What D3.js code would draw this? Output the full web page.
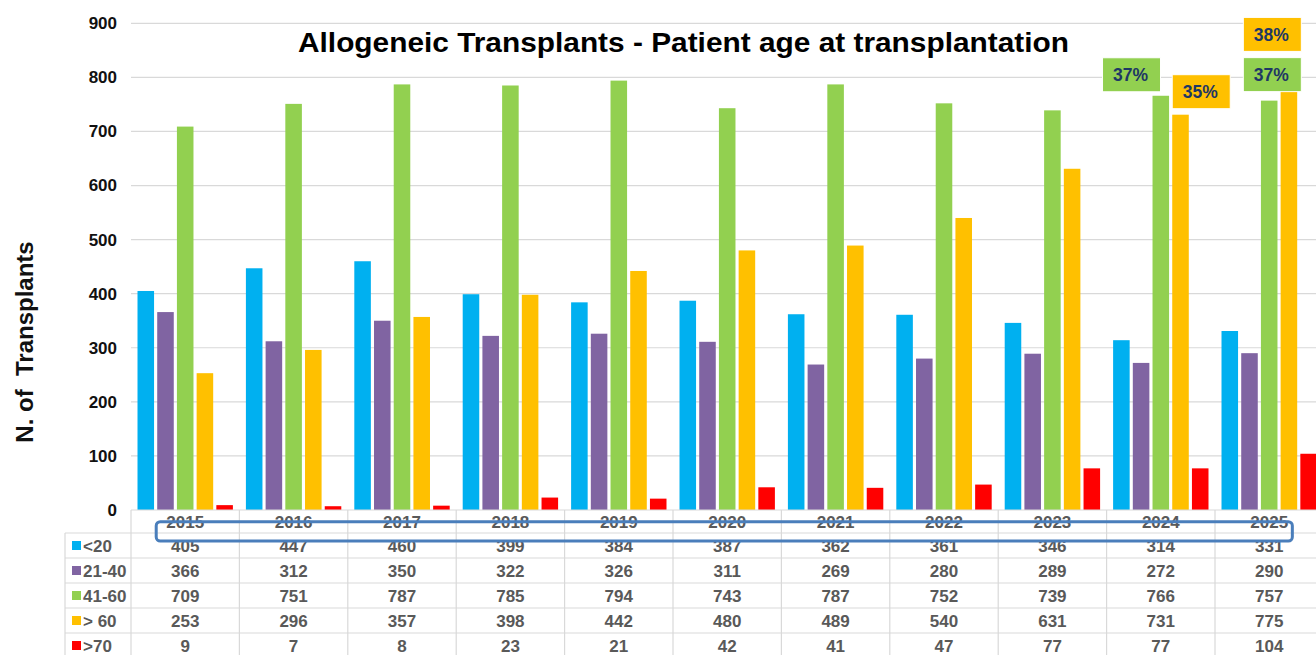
<!DOCTYPE html>
<html>
<head>
<meta charset="utf-8">
<script src="https://cdn.jsdelivr.net/npm/d3@7"></script>
<style>
  body { margin: 0; background: #fff; }
  text { font-family: "Liberation Sans", Arial, sans-serif; font-weight: bold; }
</style>
</head>
<body>
<div id="chart"></div>
<script>
// data
var years = [2015, 2016, 2017, 2018, 2019, 2020, 2021, 2022, 2023, 2024, 2025];
var seriesNames = ['<20', '21-40', '41-60', '> 60', '>70'];
var seriesColors = ['#00B0F0', '#8064A2', '#92D050', '#FFC000', '#FF0000'];
var under20 = [405, 447, 460, 399, 384, 387, 362, 361, 346, 314, 331];
var from21to40 = [366, 312, 350, 322, 326, 311, 269, 280, 289, 272, 290];
var from41to60 = [709, 751, 787, 785, 794, 743, 787, 752, 739, 766, 757];
var over60 = [253, 296, 357, 398, 442, 480, 489, 540, 631, 731, 775];
var over70 = [9, 7, 8, 23, 21, 42, 41, 47, 77, 77, 104];
var yTicks = [0, 100, 200, 300, 400, 500, 600, 700, 800, 900];
var percentLabels = [
  { year: 2024, series: '41-60', text: '37%' },
  { year: 2024, series: '> 60', text: '35%' },
  { year: 2025, series: '41-60', text: '37%' },
  { year: 2025, series: '> 60', text: '38%' }
];

var seriesValues = [under20, from21to40, from41to60, over60, over70];

var width = 1316,
    height = 655;

var svg = d3.select('#chart').append('svg')
    .attr('width', width)
    .attr('height', height);

//scales
var x0 = d3.scaleBand()
    .domain(years)
    .range([131, 1323.4])
    .padding(0);

var x1 = d3.scaleBand()
    .domain(seriesNames)
    .range([0, x0.bandwidth()])
    .paddingInner(0.16)
    .paddingOuter(0.33);

var y = d3.scaleLinear()
    .domain([0, 900])
    .range([510, 23.3]);

var color = d3.scaleOrdinal().domain(seriesNames).range(seriesColors);

//grid
svg.append('g').selectAll('line')
    .data(yTicks.slice(1))
  .enter().append('line')
    .attr('x1', 131)
    .attr('x2', width)
    .attr('y1', function (d) { return y(d); })
    .attr('y2', function (d) { return y(d); })
    .attr('stroke', '#D9D9D9')
    .attr('stroke-width', 1.2);

//y axis labels
var yAxis = d3.axisLeft(y).tickValues(yTicks).tickSize(0).tickPadding(14);
var yg = svg.append('g')
    .attr('transform', 'translate(131,0)')
    .call(yAxis);
yg.select('.domain').remove();
yg.selectAll('text')
    .attr('font-size', 17)
    .attr('font-family', '"Liberation Sans", Arial, sans-serif')
    .attr('font-weight', 'bold')
    .attr('fill', '#111');

//bars
var rows = [];
years.forEach(function (yr, i) {
  seriesNames.forEach(function (s, j) {
    rows.push({ year: yr, series: s, value: seriesValues[j][i] });
  });
});

svg.append('g').selectAll('rect')
    .data(rows)
  .enter().append('rect')
    .attr('x', function (d) { return x0(d.year) + x1(d.series); })
    .attr('y', function (d) { return y(d.value); })
    .attr('width', x1.bandwidth())
    .attr('height', function (d) { return y(0) - y(d.value); })
    .attr('fill', function (d) { return color(d.series); });

//title
svg.append('text')
    .attr('x', 298)
    .attr('y', 52)
    .attr('font-size', 28)
    .attr('fill', '#000')
    .attr('textLength', 771)
    .attr('lengthAdjust', 'spacingAndGlyphs')
    .text('Allogeneic Transplants - Patient age at transplantation');

//y title
svg.append('text')
    .attr('transform', 'translate(33,342) rotate(-90)')
    .attr('text-anchor', 'middle')
    .attr('font-size', 24)
    .attr('fill', '#111')
    .style('white-space', 'pre')
    .text('N. of  Transplants');

//DATA TABLE
var tableTop = 510,
    headerH = 23,
    rowH = 25,
    labelLeft = 65,
    tableRight = x0.range()[1],
    tableBottom = tableTop + headerH + rowH * seriesNames.length;

var table = svg.append('g');
var lineColor = '#D9D9D9';

//horizontal lines
table.append('line')
    .attr('x1', 131).attr('x2', tableRight)
    .attr('y1', tableTop).attr('y2', tableTop)
    .attr('stroke', lineColor).attr('stroke-width', 1.2);
table.selectAll('.hline')
    .data(seriesNames)
  .enter().append('line')
    .attr('class', 'hline')
    .attr('x1', labelLeft).attr('x2', tableRight)
    .attr('y1', function (d, i) { return tableTop + headerH + i * rowH; })
    .attr('y2', function (d, i) { return tableTop + headerH + i * rowH; })
    .attr('stroke', lineColor).attr('stroke-width', 1.2);

//vertical lines
table.selectAll('.vline')
    .data(years)
  .enter().append('line')
    .attr('class', 'vline')
    .attr('x1', function (d) { return x0(d); })
    .attr('x2', function (d) { return x0(d); })
    .attr('y1', tableTop).attr('y2', tableBottom)
    .attr('stroke', lineColor).attr('stroke-width', 1.2);
table.append('line')
    .attr('x1', labelLeft).attr('x2', labelLeft)
    .attr('y1', tableTop + headerH).attr('y2', tableBottom)
    .attr('stroke', lineColor).attr('stroke-width', 1.2);

//year headers
table.selectAll('.year')
    .data(years)
  .enter().append('text')
    .attr('class', 'year')
    .attr('x', function (d) { return x0(d) + x0.bandwidth() / 2; })
    .attr('y', tableTop + headerH / 2)
    .attr('dy', '0.36em')
    .attr('text-anchor', 'middle')
    .attr('font-size', 17)
    .attr('fill', '#595959')
    .text(function (d) { return d; });

//row labels with swatches
var rowG = table.selectAll('.row')
    .data(seriesNames)
  .enter().append('g')
    .attr('class', 'row')
    .attr('transform', function (d, i) {
      return 'translate(0,' + (tableTop + headerH + i * rowH + rowH / 2) + ')';
    });

rowG.append('rect')
    .attr('x', 72)
    .attr('y', -4.5)
    .attr('width', 9)
    .attr('height', 9)
    .attr('fill', function (d) { return color(d); });

rowG.append('text')
    .attr('x', 83)
    .attr('dy', '0.36em')
    .attr('font-size', 17)
    .attr('fill', '#595959')
    .style('white-space', 'pre')
    .text(function (d) { return d; });

rowG.selectAll('.val')
    .data(function (d, i) { return seriesValues[i]; })
  .enter().append('text')
    .attr('class', 'val')
    .attr('x', function (d, i) { return x0(years[i]) + x0.bandwidth() / 2; })
    .attr('dy', '0.36em')
    .attr('text-anchor', 'middle')
    .attr('font-size', 17)
    .attr('fill', '#595959')
    .text(function (d) { return d; });

//blue highlight box round the year row
svg.append('rect')
    .attr('x', x0(2015) + x1('21-40') - 1)
    .attr('y', tableTop + 11.7)
    .attr('width', x0(2025) + x1('>70') - 8 - (x0(2015) + x1('21-40') - 1))
    .attr('height', 19.3)
    .attr('rx', 4)
    .attr('fill', 'none')
    .attr('stroke', '#4A7EBB')
    .attr('stroke-width', 3);

//percentage boxes, placed against their bar tops
var boxW = 58, boxH = 34;
var labelOffsets = [[-50, -38], [0, -40], [-17.6, -43], [-37.3, -73.5]];

var pl = svg.append('g').selectAll('g')
    .data(percentLabels)
  .enter().append('g')
    .attr('transform', function (d, i) {
      var idx = years.indexOf(d.year),
          val = seriesValues[seriesNames.indexOf(d.series)][idx],
          bx = x0(d.year) + x1(d.series) + labelOffsets[i][0],
          by = y(val) + labelOffsets[i][1];
      return 'translate(' + bx + ',' + by + ')';
    });

pl.append('rect')
    .attr('width', boxW)
    .attr('height', boxH)
    .attr('fill', function (d) { return color(d.series); })
    .attr('stroke', '#fff')
    .attr('stroke-width', 1);

pl.append('text')
    .attr('x', boxW / 2 - 1)
    .attr('y', boxH / 2)
    .attr('dy', '0.36em')
    .attr('text-anchor', 'middle')
    .attr('font-size', 17.5)
    .attr('fill', '#1F3864')
    .text(function (d) { return d.text; });
</script>
</body>
</html>
